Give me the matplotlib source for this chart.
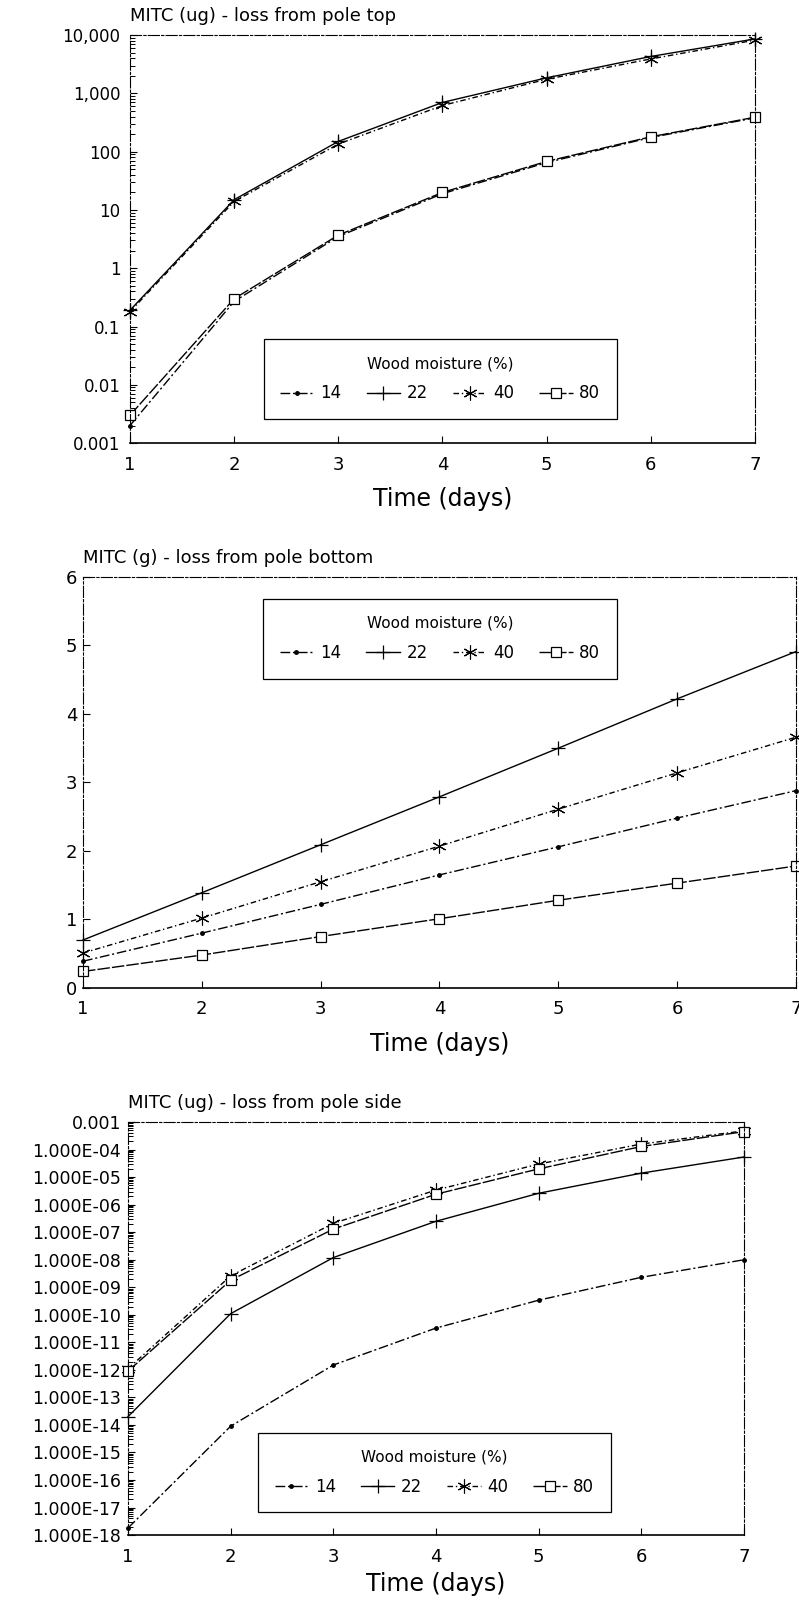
import numpy as np
import matplotlib
matplotlib.use('Agg')
import matplotlib.pyplot as plt
from matplotlib.ticker import FixedLocator, FixedFormatter, LogLocator, NullFormatter

plt.rcParams['font.family'] = ['DejaVu Sans']

# x axis, days
days = [1, 2, 3, 4, 5, 6, 7]
moisture = ['14', '22', '40', '80']

# MITC (ug) lost from the pole top
top_14 = [0.002, 0.27, 3.5, 19, 65, 175, 380]
top_22 = [0.19, 15, 150, 700, 1850, 4300, 8600]
top_40 = [0.18, 14, 135, 620, 1750, 3900, 8200]
top_80 = [0.003, 0.30, 3.7, 20, 68, 180, 390]

# MITC (g) lost from the pole bottom
bot_14 = [0.39, 0.80, 1.22, 1.65, 2.06, 2.48, 2.88]
bot_22 = [0.70, 1.39, 2.09, 2.79, 3.50, 4.22, 4.91]
bot_40 = [0.51, 1.02, 1.55, 2.07, 2.61, 3.14, 3.66]
bot_80 = [0.24, 0.48, 0.75, 1.01, 1.28, 1.53, 1.78]

# MITC (ug) lost from the pole side
side_14 = [1.8e-18, 9e-15, 1.5e-12, 3.3e-11, 3.4e-10, 2.3e-9, 1.0e-8]
side_22 = [2e-14, 1.1e-10, 1.2e-8, 2.5e-7, 2.6e-6, 1.4e-5, 5.4e-5]
side_40 = [1.1e-12, 2.6e-9, 2.1e-7, 3.4e-6, 3.0e-5, 1.6e-4, 4.8e-4]
side_80 = [0.9e-12, 1.8e-9, 1.3e-7, 2.4e-6, 2.0e-5, 1.3e-4, 4.5e-4]

top_yticks = [1e-3, 1e-2, 1e-1, 1, 10, 100, 1e3, 1e4]
top_ylabels = ['0.001', '0.01', '0.1', '1', '10', '100', '1,000', '10,000']
bot_yticks = [0, 1, 2, 3, 4, 5, 6]
side_yticks = [1e-3, 1e-4, 1e-5, 1e-6, 1e-7, 1e-8, 1e-9, 1e-10, 1e-11,
               1e-12, 1e-13, 1e-14, 1e-15, 1e-16, 1e-17, 1e-18]
side_ylabels = ['0.001', '1.000E-04', '1.000E-05', '1.000E-06', '1.000E-07',
                '1.000E-08', '1.000E-09', '1.000E-10', '1.000E-11', '1.000E-12',
                '1.000E-13', '1.000E-14', '1.000E-15', '1.000E-16', '1.000E-17',
                '1.000E-18']

# look of each moisture series
styles = {
    '14': dict(marker='o', ms=2.5, mfc='black', ls=(0, (7, 2, 1.5, 2))),
    '22': dict(marker='+', ms=10, mew=0.9, ls='-'),
    '40': dict(marker=(6, 2, 0), ms=10, mew=0.8, ls=(0, (4, 2, 1, 2))),
    '80': dict(marker='s', ms=7, mfc='white', mew=0.9, ls=(0, (9, 1.5))),
}


def draw_panel(ax, series, title, legend_box, xpad=10):
    for name, vals in zip(moisture, series):
        st = styles[name]
        ax.plot(days, vals, color='black', lw=1.0, mec='black',
                label=name, clip_on=False, **st)
    ax.set_xlim(1, 7)
    ax.set_xticks(days)
    ax.tick_params(axis='both', which='both', direction='in', top=False, right=False)
    ax.tick_params(axis='x', which='major', length=5, labelsize=13, pad=9)
    ax.tick_params(axis='y', which='major', length=5)
    ax.tick_params(axis='y', which='minor', length=3.5, width=0.7)
    ax.set_xlabel('Time (days)', fontsize=17, labelpad=xpad)
    ax.annotate(title, xy=(0, 1), xycoords='axes fraction', xytext=(0, 7),
                textcoords='offset points', ha='left', va='bottom', fontsize=13)
    for side in ['top', 'right', 'left']:
        ax.spines[side].set_linewidth(0.8)
        ax.spines[side].set_linestyle((0, (10, 2, 2, 2)))
    ax.spines['bottom'].set_linewidth(1.2)
    leg = ax.legend(loc='center', bbox_to_anchor=legend_box, mode='expand', ncol=4,
                    title='Wood moisture (%)', title_fontsize=11, fontsize=12,
                    frameon=True, fancybox=False, edgecolor='black', framealpha=1,
                    borderpad=1.0, labelspacing=0.8, handlelength=2.0,
                    handletextpad=0.4, borderaxespad=0)
    leg.get_frame().set_linewidth(0.9)
    return leg


fig = plt.figure(figsize=(7.99, 16.03), dpi=100)

# pole top
ax1 = fig.add_axes([0.1627, 0.7236, 0.7822, 0.2545])
draw_panel(ax1, [top_14, top_22, top_40, top_80],
           'MITC (ug) - loss from pole top', (0.214, 0.061, 0.565, 0.191))
ax1.set_yscale('log')
ax1.set_ylim(1e-3, 1e4)
ax1.yaxis.set_major_locator(FixedLocator(top_yticks))
ax1.yaxis.set_major_formatter(FixedFormatter(top_ylabels))
ax1.yaxis.set_minor_locator(LogLocator(base=10, subs=np.arange(2, 10), numticks=100))
ax1.yaxis.set_minor_formatter(NullFormatter())
ax1.tick_params(axis='y', which='major', labelsize=12, pad=7)

# pole bottom
ax2 = fig.add_axes([0.1039, 0.3837, 0.8923, 0.2564])
draw_panel(ax2, [bot_14, bot_22, bot_40, bot_80],
           'MITC (g) - loss from pole bottom', (0.2525, 0.754, 0.4965, 0.19))
ax2.set_ylim(0, 6)
ax2.set_yticks(bot_yticks)
ax2.tick_params(axis='y', which='major', labelsize=13, pad=4)

# pole side
ax3 = fig.add_axes([0.1602, 0.0424, 0.7710, 0.2576])
draw_panel(ax3, [side_14, side_22, side_40, side_80],
           'MITC (ug) - loss from pole side', (0.211, 0.0557, 0.573, 0.191), xpad=5)
ax3.set_yscale('log')
ax3.set_ylim(1e-18, 1e-3)
ax3.yaxis.set_major_locator(FixedLocator(side_yticks))
ax3.yaxis.set_major_formatter(FixedFormatter(side_ylabels))
ax3.yaxis.set_minor_locator(LogLocator(base=10, subs=np.arange(2, 10), numticks=100))
ax3.yaxis.set_minor_formatter(NullFormatter())
ax3.tick_params(axis='y', which='major', labelsize=12.5, pad=5)

fig.savefig('out.png', dpi=100, facecolor='white')
